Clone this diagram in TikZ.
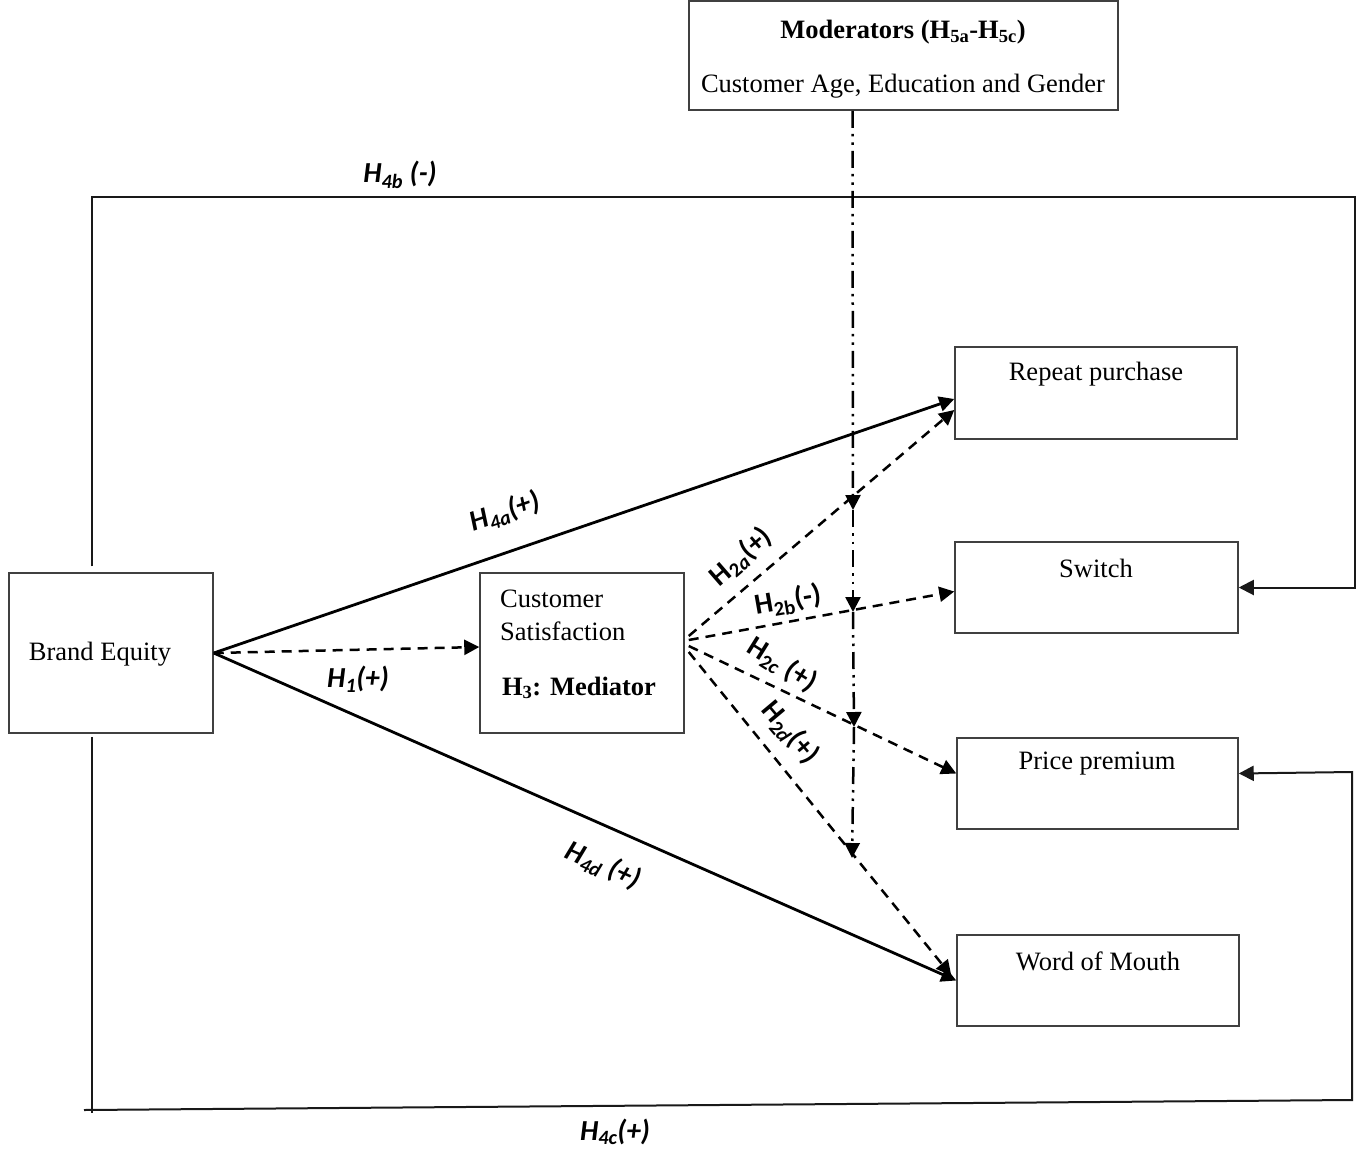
\documentclass[tikz,border=0pt]{standalone}
\usepackage{fontspec}
\setmainfont{Liberation Serif}
\newfontfamily\labfont{Carlito}
\usetikzlibrary{arrows.meta}
\begin{document}
\begin{tikzpicture}[x=1pt,y=-1pt,
  box/.style={draw=black!75,line width=1.5pt,inner sep=0pt},
  txt/.style={inner sep=0pt,font=\fontsize{26.5}{30}\selectfont},
  btxt/.style={inner sep=0pt,font=\bfseries\fontsize{26.5}{30}\selectfont},
  lab/.style={inner sep=0pt,font=\labfont\bfseries\itshape\fontsize{29}{32}\selectfont},
  labu/.style={inner sep=0pt,font=\labfont\bfseries\fontsize{29}{32}\selectfont},
  tip/.style={-{Triangle[length=15pt,width=15pt]}},
  solidarrow/.style={tip,line width=2.8pt},
  dasharrow/.style={tip,line width=2.5pt,dash pattern=on 10pt off 7pt},
  modline/.style={tip,line width=2.5pt,dash pattern=on 17pt off 6pt on 2.5pt off 6pt on 2.5pt off 6pt},
  loopline/.style={line width=2pt,draw=black!90}]
\useasboundingbox (0,0) rectangle (1361,1149);

% boxes
\node[box,minimum width=429pt,minimum height=109pt] (mod) at (903.5,55.5) {};
\node[box,minimum width=204pt,minimum height=160pt] (be) at (111,653) {};
\node[box,minimum width=204pt,minimum height=160pt] (cs) at (582,653) {};
\node[box,minimum width=282pt,minimum height=92pt] (rp) at (1096,393) {};
\node[box,minimum width=283pt,minimum height=91pt] (sw) at (1096.5,587.5) {};
\node[box,minimum width=281pt,minimum height=91pt] (pp) at (1097.5,783.5) {};
\node[box,minimum width=282pt,minimum height=91pt] (wom) at (1098,980.5) {};

% box texts
\node[btxt] (modt1) at (903,32) {Moderators (H\textsubscript{5a}-H\textsubscript{5c})};
\node[txt] (modt2) at (903,86) {Customer Age, Education and Gender};
\node[txt] (bet) at (100,654) {Brand Equity};
\node[txt,anchor=west] (cst1) at (500,599) {Customer};
\node[txt,anchor=west] (cst2) at (500,631) {Satisfaction};
\node[btxt] (cst3) at (579,688) {H\textsubscript{3}: Mediator};
\node[txt] (rpt) at (1096,374) {Repeat purchase};
\node[txt] (swt) at (1096,568) {Switch};
\node[txt] (ppt) at (1097,764) {Price premium};
\node[txt] (womt) at (1098,961) {Word of Mouth};

% outer loops
\coordinate (tl) at (92,197);
\coordinate (tr) at (1355,197);
\draw[loopline,tip] ([xshift=-19pt,yshift=6pt]be.north) -- (tl) -- (tr) |- (sw.east);
\coordinate (bl) at (92,1113);
\coordinate (bl2) at (84,1110);
\coordinate (br) at (1352,1100);
\coordinate (br2) at (1352,772);
\draw[loopline] ([xshift=-19pt,yshift=-3pt]be.south) -- (bl);
\draw[loopline,tip] (bl2) -- (br) -- (br2) -- ([yshift=10pt]pp.east);

% direct effects
\draw[solidarrow] (be.east) -- ([yshift=-6pt]rp.west);
\draw[solidarrow] (be.east) -- (wom.west);
\draw[dasharrow] (be.east) -- ([yshift=6pt]cs.west);

% mediated
\draw[dasharrow] ([xshift=4pt,yshift=17pt]cs.east) -- ([yshift=-17pt]rp.west);
\draw[dasharrow] ([xshift=4pt,yshift=13pt]cs.east) -- ([yshift=-4pt]sw.west);
\draw[dasharrow] ([xshift=4pt,yshift=7pt]cs.east) -- ([yshift=10pt]pp.west);
\draw[dasharrow] ([xshift=4pt,yshift=1pt]cs.east) -- ([xshift=-5pt,yshift=5pt]wom.west);

% moderator line
\coordinate (m1) at (853,510);
\coordinate (m2) at (853,612);
\coordinate (m3) at (854,727);
\coordinate (m4) at (852,858);
\draw[modline] ([xshift=-51pt]mod.south) -- (m1);
\draw[modline] (m1) -- (m2);
\draw[modline] (m2) -- (m3);
\draw[modline] (m3) -- (m4);

% labels
\node[lab] (h4b) at (400,175) {H\textsubscript{4b} (-)};
\node[lab,rotate=19] (h4a) at (505,512) {H\textsubscript{4a}(+)};
\node[lab] (h1) at (358,679) {H\textsubscript{1}(+)};
\node[lab,rotate=-24] (h4d) at (603,866) {H\textsubscript{4d} (+)};
\node[lab] (h4c) at (615,1132) {H\textsubscript{4c}(+)};
\node[labu,rotate=41] (h2a) at (741,557) {H\textsubscript{2\itshape a}(+)};
\node[labu,rotate=10] (h2b) at (788,601) {H\textsubscript{2b}(-)};
\node[labu,rotate=-32] (h2c) at (782,665) {H\textsubscript{2\itshape c} (+)};
\node[labu,rotate=-50] (h2d) at (790,733) {H\textsubscript{2\itshape d}(+)};
\end{tikzpicture}
\end{document}
